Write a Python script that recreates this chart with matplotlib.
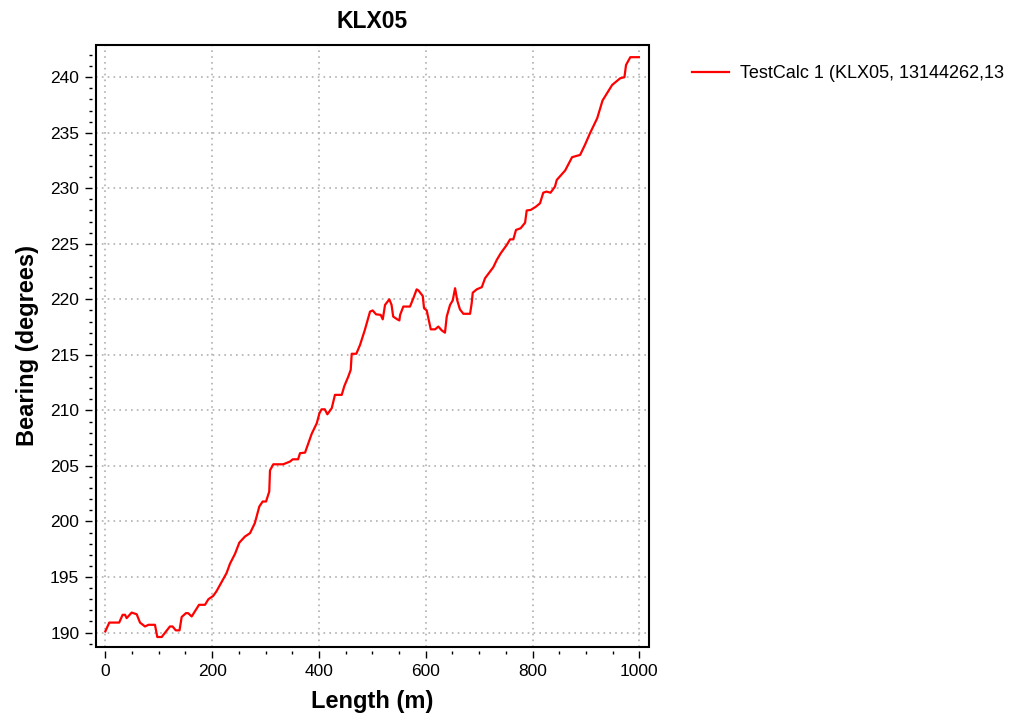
import matplotlib
matplotlib.use("Agg")
import matplotlib.pyplot as plt
from matplotlib.ticker import MultipleLocator
from matplotlib.patches import Rectangle

plt.rcParams['font.family'] = ['Liberation Sans', 'DejaVu Sans']

# Length (m) and bearing (degrees)
length = [0, 7.5, 26, 32.5, 37, 40, 49.4, 58.8, 65, 74.3, 81, 93, 97.4, 105.6,
          121, 126, 132, 139, 143, 151, 155, 161.8, 169, 175.5, 186.7, 193, 202,
          208, 220, 227, 233.5, 243, 251, 261.6, 271, 280, 288.4, 294.7, 301,
          307, 308.4, 314.6, 333, 346, 351, 361, 364.6, 374, 386.5, 396, 401,
          405, 411, 415.8, 424, 430, 442.7, 447.6, 455, 459.5, 461.4, 470, 477,
          486, 495.7, 500.6, 507, 515.6, 519.5, 523.8, 531.8, 536, 539, 546.7,
          550.6, 552, 558, 570.5, 576.8, 583, 586.3, 594.4, 596.8, 601.8, 609.4,
          617.6, 623.6, 630, 636, 639.3, 645.5, 650.5, 654.9, 659, 664, 670.4,
          683, 686, 688, 695.5, 705, 711, 726.6, 733, 740.4, 751.7, 757.9, 764,
          769, 777.7, 786, 789, 796.6, 806.5, 814, 820, 826, 833.6, 842, 845.3,
          861, 874, 889, 898, 908, 921, 931, 940, 949, 964, 972, 975, 983, 999]
bearing = [190.1, 190.9, 190.9, 191.6, 191.6, 191.3, 191.8, 191.65, 190.9, 190.55,
           190.7, 190.7, 189.6, 189.6, 190.55, 190.55, 190.2, 190.2, 191.4, 191.75,
           191.75, 191.45, 192.0, 192.5, 192.5, 193.0, 193.3, 193.7, 194.75, 195.35,
           196.2, 197.1, 198.1, 198.65, 198.95, 199.85, 201.35, 201.8, 201.8, 202.7,
           204.6, 205.15, 205.15, 205.4, 205.6, 205.6, 206.15, 206.2, 207.9, 208.85,
           209.75, 210.1, 210.1, 209.65, 210.2, 211.4, 211.4, 212.2, 213.05, 213.65,
           215.1, 215.1, 215.9, 217.25, 218.9, 219.0, 218.65, 218.6, 218.2, 219.5,
           220.0, 219.5, 218.45, 218.2, 218.1, 218.6, 219.35, 219.35, 220.1, 220.9,
           220.8, 220.3, 219.2, 219.0, 217.3, 217.3, 217.55, 217.2, 217.0, 218.45,
           219.5, 219.9, 221.0, 219.9, 219.1, 218.7, 218.7, 219.65, 220.6, 220.9,
           221.1, 221.9, 222.9, 223.55, 224.15, 224.9, 225.4, 225.4, 226.25, 226.4,
           226.9, 228.0, 228.05, 228.35, 228.65, 229.6, 229.7, 229.6, 230.15, 230.75,
           231.6, 232.8, 233.0, 233.9, 235.0, 236.3, 237.9, 238.6, 239.3, 239.9,
           240.0, 241.1, 241.8, 241.8]

fig = plt.figure(figsize=(10.19, 7.23), dpi=100)
ax = fig.add_axes([0.0942, 0.1051, 0.5427, 0.8327])

ax.plot(length, bearing, color='red', linewidth=1.6,
        label='TestCalc 1 (KLX05, 13144262,13')

ax.set_xlim(-17.4, 1018)
ax.set_ylim(188.7, 242.9)
ax.xaxis.set_major_locator(MultipleLocator(200))
ax.xaxis.set_minor_locator(MultipleLocator(50))
ax.yaxis.set_major_locator(MultipleLocator(5))
ax.yaxis.set_minor_locator(MultipleLocator(1))

# ticks sit a little away from the frame
for s in ax.spines.values():
    s.set_visible(False)
ax.spines['left'].set_position(('outward', 3))
ax.spines['bottom'].set_position(('outward', 3))
ax.add_patch(Rectangle((0, 0), 1, 1, transform=ax.transAxes, fill=False,
                       edgecolor='black', linewidth=1.5, clip_on=False, zorder=5))

ax.tick_params(which='major', direction='out', length=5, width=1, labelsize=12.5, pad=4)
ax.tick_params(which='minor', direction='out', length=2.5, width=1)
ax.grid(True, which='major', linestyle=(0, (1, 2.5)), color='#b0b0b0', linewidth=1.2)

ax.set_title('KLX05', fontsize=16.5, fontweight='bold', pad=12)
ax.set_xlabel('Length (m)', fontsize=17, fontweight='bold', labelpad=8)
ax.set_ylabel('Bearing (degrees)', fontsize=17, fontweight='bold', labelpad=8)

ax.legend(loc='upper left', bbox_to_anchor=(1.065, 0.978), frameon=False,
          fontsize=13, handlelength=2.05, handletextpad=0.6, borderaxespad=0)

fig.savefig('out.png', dpi=100)
